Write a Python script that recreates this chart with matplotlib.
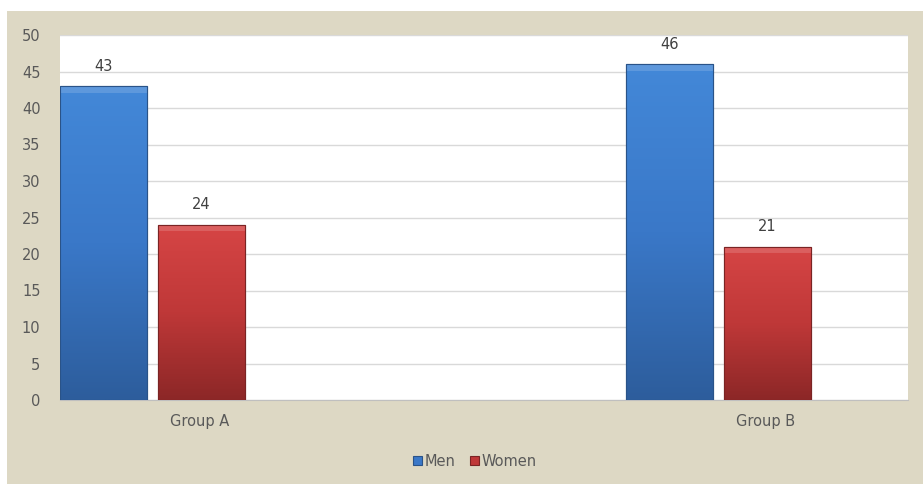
import numpy as np
import matplotlib
matplotlib.use("Agg")
import matplotlib.pyplot as plt
import matplotlib.patches as patches
from matplotlib.colors import LinearSegmentedColormap

groups = ["Group A", "Group B"]
series = ["Men", "Women"]
men = [43, 46]
women = [24, 21]

fig = plt.figure(figsize=(9.23, 4.84), dpi=100)
fig.patch.set_facecolor("white")

# beige chart panel
panel = patches.Rectangle((7 / 923, 0), 1.0, 1 - 11 / 484, transform=fig.transFigure,
                          facecolor="#ddd8c4", edgecolor="none", zorder=-5)
fig.patches.append(panel)

ax = fig.add_axes([60 / 923, 1 - 400 / 484, 848 / 923, 365 / 484])
ax.set_facecolor("white")
ax.set_zorder(1)

x = np.arange(len(groups))
width = 0.154
offset = 0.0866

blue_cmap = LinearSegmentedColormap.from_list("b", ["#2d5d9c", "#3a78c8", "#4388d8"])
red_cmap = LinearSegmentedColormap.from_list("r", ["#8c2727", "#bf3838", "#d64545"])

def draw(xs, vals, face, edge, cmap, label):
    bars = ax.bar(xs, vals, width, color=face, edgecolor=edge, linewidth=0.8,
                  label=label, zorder=3)
    grad = np.linspace(0, 1, 256).reshape(-1, 1)
    for b in bars:
        x0, y0 = b.get_x(), b.get_y()
        w, h = b.get_width(), b.get_height()
        im = ax.imshow(grad, cmap=cmap, aspect="auto", origin="lower",
                       extent=(x0, x0 + w, y0, y0 + h), zorder=3.5)
        im.set_clip_path(b)
        # bevel highlight at top
        ax.add_patch(patches.Rectangle((x0, y0 + h - 0.9), w, 0.9, facecolor="white",
                                       alpha=0.15, edgecolor="none", zorder=3.6))
        ax.add_patch(patches.Rectangle((x0, y0), w, h, facecolor="none",
                                       edgecolor=edge, linewidth=0.8, zorder=3.7))
        ax.annotate(f"{int(h)}", (x0 + w / 2, h), xytext=(0, 9), textcoords="offset points",
                    ha="center", va="bottom", fontsize=10.5, color="#404040")
    return bars

draw(x - offset, men, "#3a78c8", "#2a5388", blue_cmap, series[0])
draw(x + offset, women, "#bf3838", "#7a2424", red_cmap, series[1])

ax.set_xlim(-0.1635, 1.335)
ax.set_ylim(0, 50)
ax.set_yticks(range(0, 51, 5))
ax.yaxis.grid(True, color="#d9d9d9", linewidth=1.0, zorder=0)
ax.set_axisbelow(True)
ax.set_xticks(x + 0.084)
ax.set_xticklabels(groups)
ax.tick_params(axis="both", length=0, labelsize=10.5, labelcolor="#595959")
ax.tick_params(axis="x", pad=10)
ax.tick_params(axis="y", pad=14)
for s in ["top", "right", "left"]:
    ax.spines[s].set_visible(False)
ax.spines["bottom"].set_color("#bfbfbf")

leg = fig.legend(loc="center", bbox_to_anchor=(475 / 923, 1 - 461 / 484), ncol=2,
                 frameon=False, fontsize=10.5, handlelength=0.6, handleheight=0.6,
                 handletextpad=0.2, columnspacing=1.0)
for t in leg.get_texts():
    t.set_color("#595959")

fig.savefig("out.png", dpi=100)
